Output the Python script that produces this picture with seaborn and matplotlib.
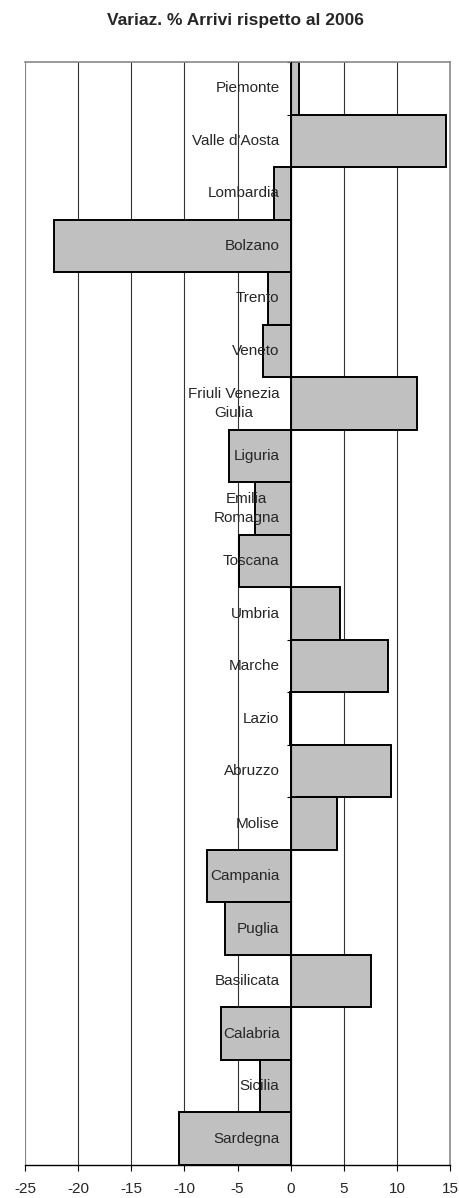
import numpy as np
import pandas as pd
import seaborn as sns
from matplotlib import pyplot as plt

regions = ['Piemonte', "Valle d'Aosta", 'Lombardia', 'Bolzano', 'Trento', 'Veneto',
           'Friuli Venezia\nGiulia', 'Liguria', 'Emilia\nRomagna', 'Toscana', 'Umbria',
           'Marche', 'Lazio', 'Abruzzo', 'Molise', 'Campania', 'Puglia', 'Basilicata',
           'Calabria', 'Sicilia', 'Sardegna']
variaz = [0.8, 14.6, -1.6, -22.3, -2.1, -2.6, 11.9, -5.8, -3.4, -4.9, 4.6,
          9.2, -0.1, 9.4, 4.4, -7.9, -6.2, 7.6, -6.6, -2.9, -10.5]
x_ticks = [-25, -20, -15, -10, -5, 0, 5, 10, 15]

df = pd.DataFrame({'Regione': regions, 'Variaz': variaz})

sns.set_style('white')
plt.rcParams['font.family'] = ['Liberation Sans', 'DejaVu Sans']

fig, ax = plt.subplots(figsize=(4.59, 11.98), dpi=100)
fig.subplots_adjust(left=25/459, right=450/459, top=1-62/1198, bottom=1-1165/1198)

# vertical gridlines
for xv in x_ticks[1:-1]:
    ax.axvline(xv, color='#333333', lw=0.8, zorder=0)

sns.barplot(data=df, x='Variaz', y='Regione', orient='h', width=1.0,
            color='#C0C0C0', edgecolor='black', linewidth=1.4, saturation=1, ax=ax, zorder=2)

n = len(regions)
ax.set_xlim(-25, 15)
ax.set_ylim(n - 0.5, -0.5)
ax.set_xticks(x_ticks)
ax.set_xticklabels([str(v) for v in x_ticks], fontsize=11)
ax.set_xlabel('')
ax.set_ylabel('')

# y axis at zero with ticks between categories
ax.spines['left'].set_position(('data', 0))
ax.spines['left'].set_color('black')
ax.spines['left'].set_zorder(3)
ax.set_yticks(np.arange(n + 1) - 0.5)
ax.set_yticklabels([])
ax.tick_params(axis='y', direction='out', length=3, width=0.8, color='black', left=True)
ax.tick_params(axis='x', direction='out', length=4, width=0.8, color='black', bottom=True, pad=8)

# frame
for side in ['top', 'right']:
    ax.spines[side].set_visible(True)
    ax.spines[side].set_color('#888888')
    ax.spines[side].set_linewidth(1.2)
ax.spines['bottom'].set_color('black')
ax.spines['bottom'].set_linewidth(1.0)
ax.axvline(-25, color='#888888', lw=1.6, zorder=1)

# region labels right-aligned near zero
for i, name in enumerate(regions):
    ax.annotate(name, xy=(0, i), xytext=(-8, 0), textcoords='offset points',
                ha='right', va='center', multialignment='center', linespacing=1.45,
                fontsize=11, zorder=5)

fig.text(235/459, 1-21/1198, 'Variaz. % Arrivi rispetto al 2006',
         ha='center', va='center', fontsize=12.5, fontweight='bold')

plt.savefig('out.png', dpi=100)
